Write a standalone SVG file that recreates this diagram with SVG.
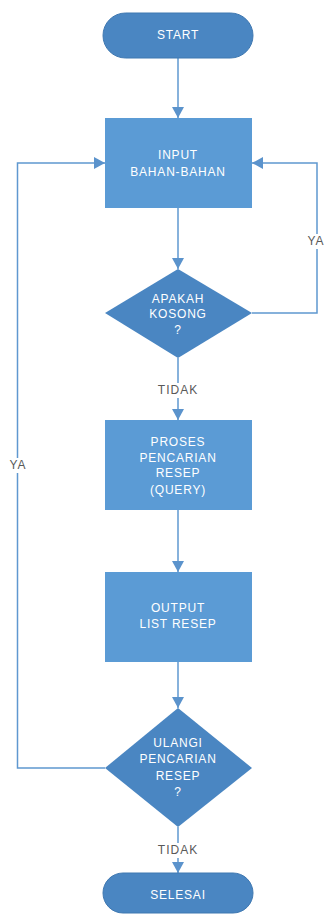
<svg xmlns="http://www.w3.org/2000/svg" width="326" height="915" viewBox="0 0 326 915">
<style>
.rect{fill:#5b9bd5;}
.term{fill:#4a86c2;stroke:#3f78b1;stroke-width:1;}
.dec{fill:#4a86c2;}
.t{font-family:"Liberation Sans",Arial,sans-serif;font-size:12px;fill:#ffffff;text-anchor:middle;letter-spacing:0.8px;}
.lbl{font-family:"Liberation Sans",Arial,sans-serif;font-size:12px;fill:#595959;text-anchor:middle;letter-spacing:1px;}
.c{fill:none;stroke:#5f98d0;stroke-width:1.5;marker-end:url(#ah);}
.cn{fill:none;stroke:#5f98d0;stroke-width:1.5;}
</style>
<defs>
<marker id="ah" markerUnits="userSpaceOnUse" markerWidth="12" markerHeight="12" refX="11" refY="6" orient="auto">
<path d="M0,0 L11,6 L0,12 z" fill="#5b93cc"/>
</marker>
</defs>
<rect width="326" height="915" fill="#ffffff"/>
<g id="connectors">
<path class="c" d="M178,58 V118"/>
<path class="c" d="M178,208 V269"/>
<path class="c" d="M252,313 H317 V163 H252"/>
<path class="c" d="M178,358 V420"/>
<path class="c" d="M178,510 V572"/>
<path class="c" d="M178,662 V708"/>
<path class="c" d="M105,768 H17.5 V163 H105"/>
<path class="c" d="M178,827 V873"/>
<rect x="152" y="383" width="52" height="15" fill="#ffffff"/>
<text class="lbl" x="178" y="394">TIDAK</text>
<rect x="152" y="843" width="52" height="15" fill="#ffffff"/>
<text class="lbl" x="178" y="854">TIDAK</text>
<rect x="303" y="234" width="23" height="15" fill="#ffffff"/>
<text class="lbl" x="316" y="245">YA</text>
<rect x="5" y="458" width="25" height="15" fill="#ffffff"/>
<text class="lbl" x="18" y="469">YA</text>
</g>
<g id="start">
<rect class="term" x="103" y="13" width="150" height="45" rx="22.5"/>
<text class="t" x="178" y="39">START</text>
</g>
<g id="input">
<rect class="rect" x="105" y="118" width="147" height="90"/>
<text class="t" x="178" y="159">INPUT</text>
<text class="t" x="178" y="176">BAHAN-BAHAN</text>
</g>
<g id="kosong">
<polygon class="dec" points="178,269 252,313 178,358 105,313"/>
<text class="t" x="178" y="303">APAKAH</text>
<text class="t" x="178" y="318">KOSONG</text>
<text class="t" x="178" y="334">?</text>
</g>
<g id="proses">
<rect class="rect" x="105" y="420" width="147" height="90"/>
<text class="t" x="178" y="446">PROSES</text>
<text class="t" x="178" y="462">PENCARIAN</text>
<text class="t" x="178" y="477">RESEP</text>
<text class="t" x="178" y="494">(QUERY)</text>
</g>
<g id="output">
<rect class="rect" x="105" y="572" width="147" height="90"/>
<text class="t" x="178" y="612">OUTPUT</text>
<text class="t" x="178" y="628">LIST RESEP</text>
</g>
<g id="ulangi">
<polygon class="dec" points="178,708 252,768 178,827 105,768"/>
<text class="t" x="178" y="747">ULANGI</text>
<text class="t" x="178" y="763">PENCARIAN</text>
<text class="t" x="178" y="780">RESEP</text>
<text class="t" x="178" y="796">?</text>
</g>
<g id="selesai">
<rect class="term" x="103" y="873" width="150" height="40" rx="20"/>
<text class="t" x="178" y="899">SELESAI</text>
</g>
</svg>
